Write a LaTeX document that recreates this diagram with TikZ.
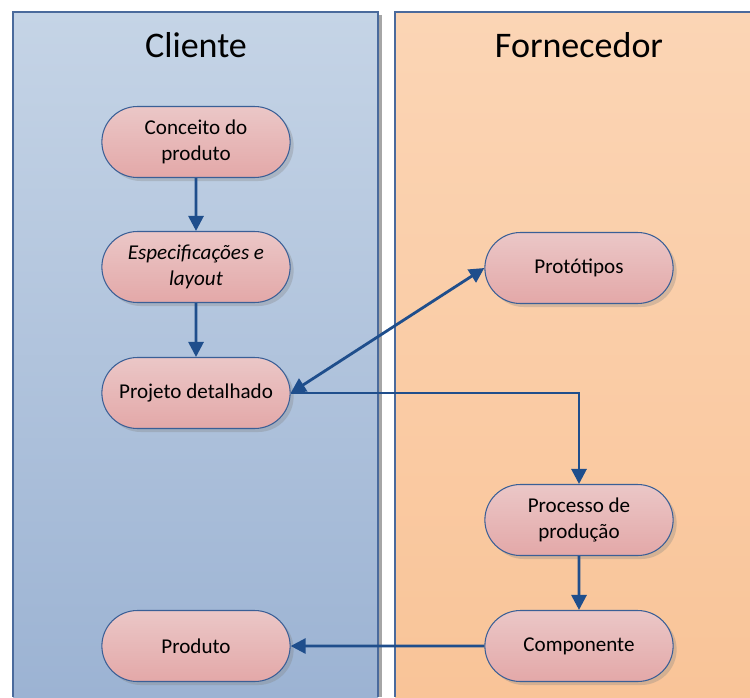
\documentclass[tikz,border=0pt]{standalone}
\usepackage{fontspec}
\setmainfont{Carlito}
\usetikzlibrary{shapes.misc,shadows,arrows.meta}
\definecolor{clitop}{HTML}{C5D4E6}
\definecolor{clibot}{HTML}{9CB3D3}
\definecolor{fortop}{HTML}{FBD5B5}
\definecolor{forbot}{HTML}{F9C498}
\definecolor{nodetop}{HTML}{EBC7C7}
\definecolor{nodebot}{HTML}{E3A8A8}
\definecolor{nodeline}{HTML}{3A5F96}
\definecolor{flowblue}{HTML}{1F4E8C}
\definecolor{laneline}{HTML}{4A6A9C}
\begin{document}
\begin{tikzpicture}[
    x=0.02cm, y=-0.02cm,
    lane/.style={draw=laneline, line width=0.6pt},
    lanetitle/.style={font=\fontsize{20.5}{24}\selectfont},
    stepnode/.style={rounded rectangle, draw=nodeline, line width=0.6pt,
      top color=nodetop, bottom color=nodebot,
      minimum width=4cm, minimum height=1.42cm, align=center,
      font=\fontsize{12}{14.5}\selectfont,
      drop shadow={shadow xshift=2pt, shadow yshift=-2pt, opacity=0.3}},
    flow/.style={-{Triangle[length=3mm,width=3mm]}, line width=1.6pt, draw=flowblue}
  ]
  \useasboundingbox (0,0) rectangle (750,697);
  \fill[black!35] (16,15) rectangle (382,697);
  \shade[top color=clitop, bottom color=clibot] (13,12) rectangle (378,697);
  \draw[lane] (13,697) -- (13,12) -- (378,12) -- (378,697);
  \shade[top color=fortop, bottom color=forbot] (395,12) rectangle (752,697);
  \draw[lane] (395,697) -- (395,12) -- (752,12);
  \node[lanetitle] (cliente) at (196,45) {Cliente};
  \node[lanetitle] (fornecedor) at (579,45) {Fornecedor};

  \node[stepnode] (conceito) at (196,142) {Conceito do\\produto};
  \node[stepnode] (especif) at (196,267) {\textit{Especificações e}\\\textit{layout}};
  \node[stepnode] (projeto) at (196,393) {Projeto detalhado};
  \node[stepnode] (produto) at (196,646) {Produto};
  \node[stepnode] (prototipos) at (579,268) {Protótipos};
  \node[stepnode] (processo) at (579,520) {Processo de\\produção};
  \node[stepnode] (componente) at (579,646) {Componente};

  \draw[flow] (conceito) -- (especif);
  \draw[flow] (especif) -- (projeto);
  \draw[flow, {Triangle[length=3mm,width=3mm]}-{Triangle[length=3mm,width=3mm]}] (projeto.east) -- (prototipos.west);
  \draw[flow] (projeto.east) -| (processo.north);
  \draw[flow] (processo) -- (componente);
  \draw[flow] (componente) -- (produto);
\end{tikzpicture}
\end{document}
